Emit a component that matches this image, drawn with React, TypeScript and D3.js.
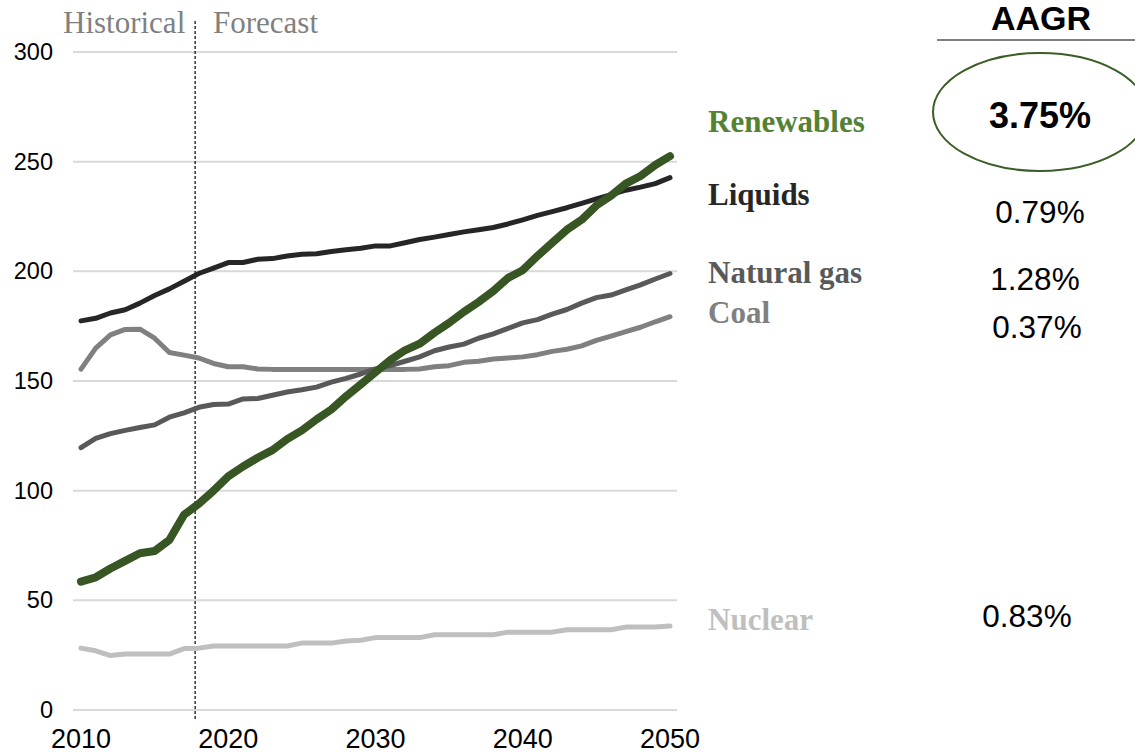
import React from 'react';
import * as d3 from 'd3';

// years on the category axis
const years = d3.range(2010, 2051);
const xTicks = [2010, 2020, 2030, 2040, 2050];
const yTicks = [0, 50, 100, 150, 200, 250, 300];
const forecastStart = 2017.75;

// series values, one per year 2010..2050
const liquids = [
  177.4, 178.6, 181, 182.5, 185.5, 189, 192, 195.5, 199, 201.5,
  204, 204, 205.5, 205.8, 207, 207.8, 208, 209, 209.8, 210.5,
  211.6, 211.6, 213, 214.5, 215.6, 216.8, 218, 219, 220, 221.6,
  223.5, 225.5, 227.2, 229, 231, 233, 235, 237, 238.4, 240, 242.7,
];
const coal = [
  155.4, 165, 171, 173.5, 173.6, 169.5, 163, 161.8, 160.5, 158,
  156.5, 156.5, 155.5, 155.3, 155.3, 155.3, 155.3, 155.3, 155.3, 155.3,
  155.3, 155.3, 155.3, 155.5, 156.5, 157, 158.5, 159, 160, 160.5,
  161, 162, 163.5, 164.5, 166, 168.5, 170.5, 172.5, 174.5, 177, 179.3,
];
const naturalGas = [
  119.6, 123.8, 126, 127.5, 128.8, 130, 133.5, 135.5, 138, 139.3,
  139.5, 141.8, 142, 143.5, 145, 146, 147.2, 149.5, 151.2, 153.2,
  155.5, 157, 159, 161, 163.8, 165.5, 166.8, 169.5, 171.5, 174,
  176.5, 178, 180.5, 182.6, 185.5, 188, 189.2, 191.5, 193.8, 196.5, 199,
];
const renewables = [
  58.5, 60.5, 64.5, 68, 71.5, 72.5, 77.5, 89, 94, 100,
  106.5, 111, 115, 118.5, 123.5, 127.5, 132.5, 137, 143, 148.5,
  154, 159.5, 164, 167, 172, 176.5, 181.5, 186, 191, 197,
  200.5, 207, 213, 219, 223.5, 230, 234.5, 240, 243.5, 248.5, 252.5,
];
const nuclear = [
  28.2, 27, 24.8, 25.5, 25.5, 25.5, 25.5, 28, 28.2, 29.2,
  29.2, 29.2, 29.2, 29.2, 29.2, 30.5, 30.5, 30.5, 31.5, 31.8,
  33, 33, 33, 33, 34.3, 34.3, 34.3, 34.3, 34.3, 35.5,
  35.5, 35.5, 35.5, 36.6, 36.6, 36.6, 36.6, 37.8, 37.8, 37.8, 38.3,
];

const seriesNames = ['Renewables', 'Liquids', 'Natural gas', 'Coal', 'Nuclear'];
const aagr = ['3.75%', '0.79%', '1.28%', '0.37%', '0.83%'];

const SANS = '"Liberation Sans", Arial, sans-serif';
const SERIF = '"Liberation Serif", "Times New Roman", serif';

export default function App() {
  const width = 1135, height = 754;

  const x = d3.scaleLinear().domain([2010, 2050]).range([81, 670]);
  const y = d3.scaleLinear().domain([0, 300]).range([710, 52]);

  const line = d3.line<number>()
    .x((d, i) => x(years[i]))
    .y((d) => y(d));

  // drawing order: green on top
  const lines = [
    { data: coal, color: '#808080', w: 5 },
    { data: naturalGas, color: '#595959', w: 5 },
    { data: liquids, color: '#262626', w: 5 },
    { data: nuclear, color: '#bfbfbf', w: 5 },
    { data: renewables, color: '#375623', w: 8 },
  ];

  const labelColors = ['#548235', '#262626', '#595959', '#808080', '#bfbfbf'];
  const labelY = [132, 205, 283, 323, 630];
  const valueY = [128, 223, 290, 338, 627];
  const valueX = [1040, 1040, 1035, 1037, 1027];

  return (
    <svg width={width} height={height}
      style={{ position: 'absolute', left: 0, top: 0, background: '#fff' }}>
      {/* gridlines */}
      <g>
        {yTicks.map((t) => (
          <line key={t} x1={x(2010) - 8} x2={x(2050) + 7} y1={y(t)} y2={y(t)}
            stroke="#d9d9d9" strokeWidth={2} />
        ))}
      </g>

      {/* y axis labels */}
      <g fontFamily={SANS} fontSize={23.5} fill="#000">
        {yTicks.map((t) => (
          <text key={t} x={53} y={y(t)} textAnchor="end" dominantBaseline="central">{t}</text>
        ))}
      </g>

      {/* x axis labels */}
      <g fontFamily={SANS} fontSize={27} fill="#000">
        {xTicks.map((t) => (
          <text key={t} x={x(t)} y={748} textAnchor="middle">{t}</text>
        ))}
      </g>

      {/* historical / forecast divider */}
      <line x1={x(forecastStart)} x2={x(forecastStart)} y1={21} y2={721}
        stroke="#000" strokeWidth={1.2} strokeDasharray="3,2" />
      <text x={63} y={33} fontFamily={SERIF} fontSize={31} fill="#808080">Historical</text>
      <text x={213} y={33} fontFamily={SERIF} fontSize={31} fill="#808080">Forecast</text>

      {/* series */}
      <g fill="none" strokeLinecap="round" strokeLinejoin="round">
        {lines.map((s, i) => (
          <path key={i} d={line(s.data) || ''} stroke={s.color} strokeWidth={s.w} />
        ))}
      </g>

      {/* right-hand labels */}
      <g fontFamily={SERIF} fontSize={31} fontWeight="bold">
        {seriesNames.map((n, i) => (
          <text key={n} x={708} y={labelY[i]} fill={labelColors[i]}>{n}</text>
        ))}
      </g>

      {/* AAGR column */}
      <text x={1041} y={30} textAnchor="middle" fontFamily={SANS} fontSize={34} fontWeight="bold">AAGR</text>
      <line x1={937} x2={1135} y1={40} y2={40} stroke="#808080" strokeWidth={2} />
      <ellipse cx={1040} cy={112} rx={107} ry={59} fill="none" stroke="#3b5e27" strokeWidth={2} />
      <g fontFamily={SANS} fill="#000">
        {aagr.map((v, i) => (
          <text key={i} x={valueX[i]} y={valueY[i]} textAnchor="middle"
            fontSize={i === 0 ? 36 : 31.5} fontWeight={i === 0 ? 'bold' : 'normal'}>{v}</text>
        ))}
      </g>
    </svg>
  );
}
